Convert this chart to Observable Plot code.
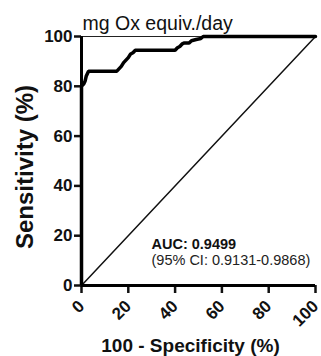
<!DOCTYPE html>
<html>
<head>
<meta charset="utf-8">
<script src="https://cdn.jsdelivr.net/npm/d3@7"></script>
<script src="https://cdn.jsdelivr.net/npm/@observablehq/plot@0.6"></script>
<style>
  html, body { margin: 0; padding: 0; background: #fff; overflow: hidden; }
  #chart { width: 321px; height: 356px; }
</style>
</head>
<body>
<div id="chart"></div>
<script>
// ROC curve (100 - specificity, sensitivity)
const fpr = [0, 0, 1, 1.5, 2, 3, 15, 16, 17, 18, 19, 20, 21, 22, 23, 40, 41, 42, 43, 44, 46, 47, 49, 51, 52, 100];
const tpr = [0, 80, 81, 82, 84, 86, 86, 87, 88, 89.5, 90.5, 91.5, 93, 93.5, 94.5, 94.5, 95.5, 96, 97, 97.4, 97.4, 98.3, 98.8, 99.2, 100, 100];
// reference (chance) line
const refX = [0, 100];
const refY = [0, 100];
const tickValues = [0, 20, 40, 60, 80, 100];
const titleText = "mg Ox equiv./day";
const xLabel = "100 - Specificity (%)";
const yLabel = "Sensitivity (%)";
const aucText = "AUC: 0.9499";
const ciText = "(95% CI: 0.9131-0.9868)";

const roc = fpr.map((x, i) => ({x, y: tpr[i]}));
const ref = refX.map((x, i) => ({x, y: refY[i]}));

const font = "'Liberation Sans', Arial, sans-serif";

const chart = Plot.plot({
  width: 321,
  height: 356,
  marginLeft: 81,
  marginRight: 6,
  marginTop: 36,
  marginBottom: 71,
  style: {fontFamily: font, background: "#fff", color: "#111"},
  x: {domain: [0, 100], label: null},
  y: {domain: [0, 100], label: null},
  marks: [
    Plot.ruleY([100], {stroke: "#222", strokeWidth: 1}),
    Plot.line(ref, {x: "x", y: "y", stroke: "#111", strokeWidth: 1.5}),
    Plot.line(roc, {x: "x", y: "y", stroke: "#000", strokeWidth: 3.5, strokeLinejoin: "miter"}),
    Plot.axisY({ticks: tickValues, tickSize: 7, tickPadding: 2, strokeWidth: 2.5,
      fontSize: 17, fontWeight: "bold", fill: "#111", label: null}),
    Plot.axisX({ticks: tickValues, tickSize: 8, tickPadding: 10, strokeWidth: 2.5, tickRotate: -45,
      fontSize: 17, fontWeight: "bold", fill: "#111", label: null}),
    Plot.ruleX([0], {stroke: "#000", strokeWidth: 3}),
    Plot.ruleY([0], {stroke: "#000", strokeWidth: 3}),
    Plot.text([titleText], {frameAnchor: "top-left", dx: 1, dy: -13, textAnchor: "start", lineAnchor: "middle",
      fontSize: 19.5, fill: "#111"}),
    Plot.text([aucText], {frameAnchor: "bottom-left", dx: 70, dy: -41, textAnchor: "start", lineAnchor: "middle",
      fontSize: 14.5, fontWeight: "bold", fill: "#111"}),
    Plot.text([ciText], {frameAnchor: "bottom-left", dx: 70, dy: -25, textAnchor: "start", lineAnchor: "middle",
      fontSize: 14.5, fill: "#222"}),
    Plot.text([xLabel], {frameAnchor: "bottom", dx: -8, dy: 60, textAnchor: "middle", lineAnchor: "middle",
      fontSize: 19, fontWeight: "bold", fill: "#111"}),
    Plot.text([yLabel], {frameAnchor: "left", dx: -56, dy: 6, rotate: -90, textAnchor: "middle", lineAnchor: "middle",
      fontSize: 24, fontWeight: "bold", fill: "#111"})
  ]
});
document.getElementById("chart").append(chart);
</script>
</body>
</html>
